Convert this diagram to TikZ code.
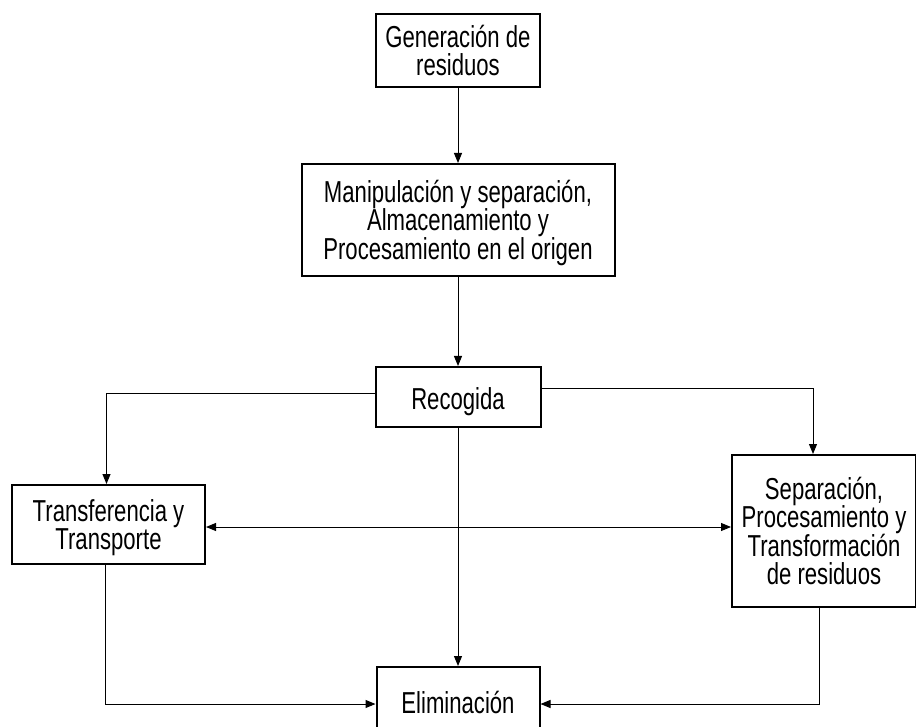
\documentclass[tikz,border=0pt]{standalone}
\usepackage{fontspec}
\setmainfont{Liberation Sans}[FakeStretch=0.73]
\usetikzlibrary{arrows.meta}
\setlength{\lineskiplimit}{-100pt}

\begin{document}
\begin{tikzpicture}[x=1pt,y=-1pt,
    caja/.style={draw,line width=2pt,align=center,inner sep=0pt,text depth=0pt,
      font=\fontsize{30.3}{28.3}\selectfont},
    flecha/.style={-{Triangle[length=10pt,width=8pt]},line width=1pt}]
      \clip (0,0) rectangle (916,727);

      \node[caja,text height=50pt,minimum width=164pt,minimum height=73pt] (gen) at (458,50.5) {Generación de\\residuos};
      \node[caja,text height=78.3pt,minimum width=313pt,minimum height=112pt] (man) at (458,220) {Manipulación y separación,\\Almacenamiento y\\Procesamiento en el origen};
      \node[caja,text height=25.7pt,minimum width=165pt,minimum height=60pt] (rec) at (458,397) {Recogida};
      \node[caja,text height=50pt,minimum width=193pt,minimum height=79pt] (tra) at (108.5,524.5) {Transferencia y\\Transporte};
      \node[caja,text height=106.6pt,minimum width=184pt,minimum height=152pt] (sep) at (824,531) {Separación,\\Procesamiento y\\Transformación\\de residuos};
      \node[caja,text height=21.7pt,minimum width=163pt,minimum height=72pt] (eli) at (458,703) {Eliminación};

      \draw[flecha] (gen.south) -- (man.north);
      \draw[flecha] (man.south) -- (rec.north);
      \draw[flecha] ([yshift=4pt]rec.west) -| ([xshift=-2pt]tra.north);
      \draw[flecha] ([yshift=9pt]rec.east) -| ([xshift=-11pt]sep.north);
      \draw[flecha,{Triangle[length=10pt,width=8pt]}-{Triangle[length=10pt,width=8pt]}] ([yshift=-2.5pt]tra.east) -- ([yshift=-2.5pt]tra.east -| sep.west);
      \draw[flecha] (rec.south) -- (eli.north);
      \draw[flecha] ([xshift=-3.5pt]tra.south) |- ([yshift=-1pt]eli.west);
      \draw[flecha] ([xshift=-5pt]sep.south) |- ([yshift=-1pt]eli.east);
\end{tikzpicture}
\end{document}
